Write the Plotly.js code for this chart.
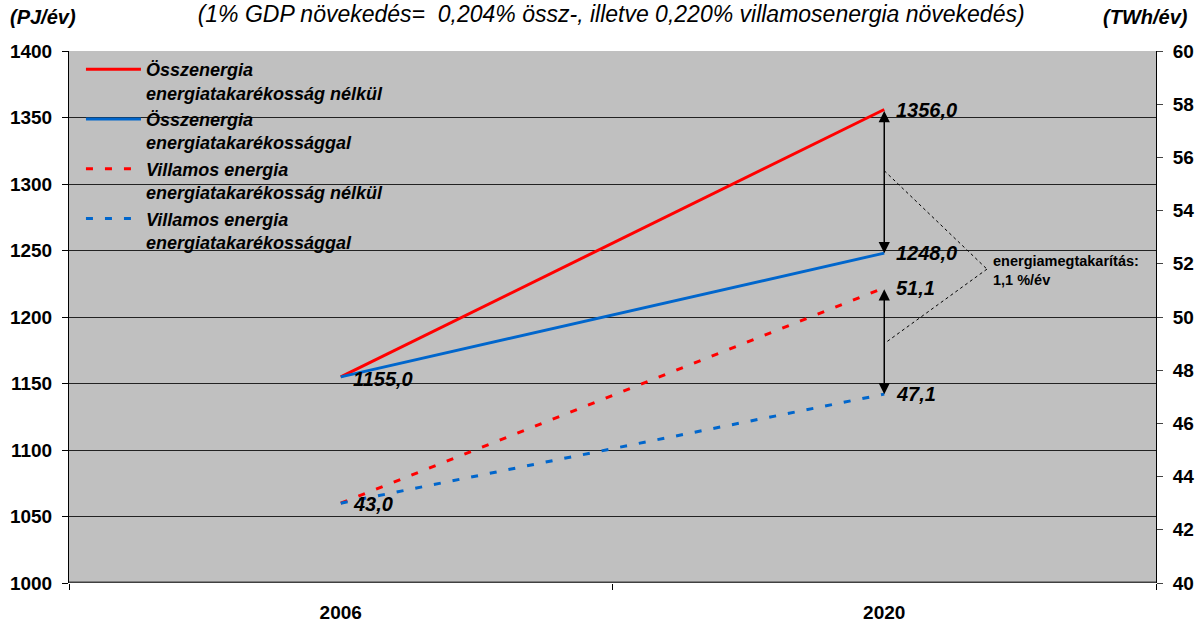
<!DOCTYPE html>
<html>
<head>
<meta charset="utf-8">
<script src="https://cdn.plot.ly/plotly-3.0.1.min.js"></script>
<style>
  html, body { margin: 0; padding: 0; background: #ffffff; }
  #chart { width: 1196px; height: 625px; }
</style>
</head>
<body>
<div id="chart"></div>
<script>
// ---- Data ----
var years = ['2006', '2020'];
var osszNelkul = [1155.0, 1356.0];   // PJ/év
var osszVel = [1155.0, 1248.0];      // PJ/év
var villNelkul = [43.0, 51.1];       // TWh/év
var villVel = [43.0, 47.1];          // TWh/év

var seriesNames = [
  'Összenergia<br>energiatakarékosság nélkül',
  'Összenergia<br>energiatakarékossággal',
  'Villamos energia<br>energiatakarékosság nélkül',
  'Villamos energia<br>energiatakarékossággal'
];
var titleText = '(1% GDP növekedés=&nbsp; 0,204% össz-, illetve 0,220% villamosenergia növekedés)';
var leftUnit = '(PJ/év)';
var rightUnit = '(TWh/év)';
var savingText = 'energiamegtakarítás:<br>1,1 %/év';

var RED = '#FF0000', BLUE = '#0066CC';
var FONT = 'Arial, "Liberation Sans", sans-serif';

function fmt(v) { return v.toFixed(1).replace('.', ','); }

var traces = [
  {x: years, y: osszNelkul, name: seriesNames[0], type: 'scatter', mode: 'lines',
   line: {color: RED, width: 3}, yaxis: 'y'},
  {x: years, y: osszVel, name: seriesNames[1], type: 'scatter', mode: 'lines',
   line: {color: BLUE, width: 3}, yaxis: 'y'},
  {x: years, y: villNelkul, name: seriesNames[2], type: 'scatter', mode: 'lines',
   line: {color: RED, width: 3, dash: '7px,12px'}, yaxis: 'y2'},
  {x: years, y: villVel, name: seriesNames[3], type: 'scatter', mode: 'lines',
   line: {color: BLUE, width: 3, dash: '7px,12px'}, yaxis: 'y2'}
];

var labelFont = {family: FONT, size: 20, color: '#000', weight: 'bold', style: 'italic'};
function label(xi, yv, yref, yshift) {
  return {x: xi, y: yv, xref: 'x', yref: yref, text: fmt(yv), showarrow: false,
          xanchor: 'left', yanchor: 'middle', xshift: 10, yshift: yshift || 0, font: labelFont};
}

var last = years.length - 1;
var annotations = [
  label(0, osszNelkul[0], 'y', -2),
  label(last, osszNelkul[last], 'y', 0),
  label(last, osszVel[last], 'y', 0),
  label(0, villNelkul[0], 'y2', -1),
  label(last, villNelkul[last], 'y2', 0),
  label(last, villVel[last], 'y2', 0),
  // double arrows
  {x: last, y: osszVel[last], ax: last, ay: osszNelkul[last], xref: 'x', yref: 'y',
   axref: 'x', ayref: 'y', showarrow: true, arrowhead: 2, startarrowhead: 2,
   arrowside: 'end+start', arrowsize: 1.5, startarrowsize: 1.5, arrowwidth: 1.5, arrowcolor: '#000',
   standoff: 0, startstandoff: 0, text: ''},
  {x: last, y: villVel[last], ax: last, ay: villNelkul[last], xref: 'x', yref: 'y2',
   axref: 'x', ayref: 'y2', showarrow: true, arrowhead: 2, startarrowhead: 2,
   arrowside: 'end+start', arrowsize: 1.5, startarrowsize: 1.5, arrowwidth: 1.5, arrowcolor: '#000',
   standoff: 0, startstandoff: 0, text: ''},
  {x: 0.848, y: 0.588, xref: 'paper', yref: 'paper', text: savingText, showarrow: false,
   xanchor: 'left', yanchor: 'middle', align: 'left',
   font: {family: FONT, size: 14.5, color: '#000', weight: 'bold', lineposition: 'none'}},
  {x: -0.056, y: 1.064, xref: 'paper', yref: 'paper', text: leftUnit,
   showarrow: false, xanchor: 'left', yanchor: 'middle',
   font: {family: FONT, size: 20, color: '#000', weight: 'bold', style: 'italic'}},
  {x: 1.0313, y: 1.064, xref: 'paper', yref: 'paper', text: rightUnit,
   showarrow: false, xanchor: 'right', yanchor: 'middle',
   font: {family: FONT, size: 20, color: '#000', weight: 'bold', style: 'italic'}}
];

var shapes = [
  {type: 'line', xref: 'x', yref: 'y', x0: 1.0, y0: 1310, x1: 1.189, y1: 1236,
   line: {color: '#000', width: 1, dash: '3px,3px'}},
  {type: 'line', xref: 'x', yref: 'y', x0: 1.189, y0: 1236, x1: 1.0, y1: 1180,
   line: {color: '#000', width: 1, dash: '3px,3px'}},
  {type: 'line', xref: 'paper', yref: 'y', x0: 0, x1: 1, y0: 1000, y1: 1000,
   line: {color: '#404040', width: 3}}
];

var tickFont = {family: FONT, size: 19, color: '#000', weight: 'bold'};

var layout = {
  width: 1196, height: 625,
  margin: {l: 69, r: 40, t: 51, b: 42, pad: 0},
  paper_bgcolor: '#ffffff',
  plot_bgcolor: '#C0C0C0',
  font: {family: FONT, color: '#000'},
  title: {text: titleText, x: 0.511, xref: 'container', xanchor: 'center',
          y: 0.977, yref: 'container', yanchor: 'middle',
          font: {family: FONT, size: 23, color: '#000', style: 'italic'}},
  showlegend: true,
  legend: {x: 0.011, y: 1.0, xanchor: 'left', yanchor: 'top', bgcolor: 'rgba(0,0,0,0)',
           borderwidth: 0, itemwidth: 55, tracegroupgap: 0, traceorder: 'normal',
           valign: 'top',
           font: {family: FONT, size: 18, color: '#000', weight: 'bold', style: 'italic'}},
  xaxis: {type: 'category', range: [-0.5, 1.5], tickson: 'boundaries', ticks: 'outside',
          ticklen: 6, tickcolor: '#000', showgrid: false, zeroline: false,
          showline: false, ticklabelstandoff: 16, tickfont: tickFont},
  yaxis: {range: [1000, 1400], dtick: 50, tick0: 1000, ticks: 'outside', ticklen: 6,
          tickcolor: '#000', showline: true, linecolor: '#000', linewidth: 1,
          showgrid: true, gridcolor: '#222', gridwidth: 1, zeroline: false,
          ticklabelstandoff: 6, tickfont: tickFont},
  yaxis2: {range: [40, 60], dtick: 2, tick0: 40, overlaying: 'y', side: 'right',
           ticks: 'outside', ticklen: 6, tickcolor: '#444', showline: true,
           linecolor: '#000', linewidth: 1, showgrid: false, zeroline: false,
           ticklabelstandoff: 6, tickfont: tickFont},
  yaxis3: {range: [40, 60], dtick: 2, tick0: 40, overlaying: 'y', side: 'right',
           ticks: 'inside', ticklen: 6, tickcolor: '#444', showline: false,
           showgrid: false, zeroline: false, showticklabels: false},
  annotations: annotations,
  shapes: shapes
};

Plotly.newPlot('chart', traces, layout, {staticPlot: true, displayModeBar: false});
</script>
</body>
</html>
